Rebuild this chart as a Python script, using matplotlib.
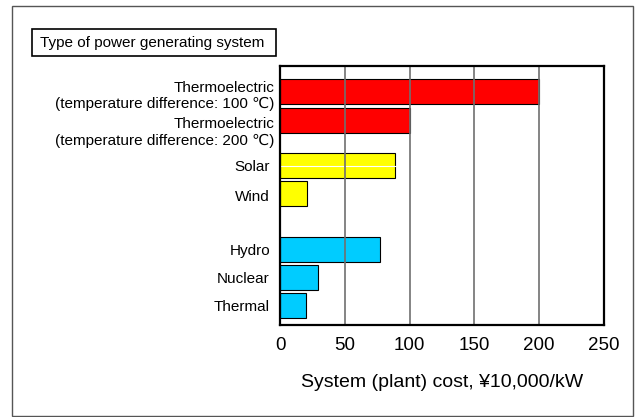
import matplotlib
matplotlib.use("Agg")
import matplotlib.pyplot as plt
from matplotlib.patches import Rectangle
import matplotlib.transforms as mtrans

plt.rcParams['font.family'] = ['Liberation Sans', 'DejaVu Sans']

categories = ["Thermoelectric\n(temperature difference: 100 \u2103)",
              "Thermoelectric\n(temperature difference: 200 \u2103)",
              "Solar", "Wind", "Hydro", "Nuclear", "Thermal"]
costs = [200, 100, 89, 21, 77, 29, 20]
colors = ["#FF0000", "#FF0000", "#FFFF00", "#FFFF00", "#00CCFF", "#00CCFF", "#00CCFF"]
xticks = [0, 50, 100, 150, 200, 250]
xtick_labels = ["0", "50", "100", "150", "200", "250"]
title_text = "Type of power generating system"
xlabel_text = "System (plant) cost, \u00a510,000/kW"

# layout (slot positions)
bar_pos = [0, 1.04, 2.63, 3.62, 5.59, 6.57, 7.55]
label_pos = [0.16, 1.45, 2.68, 3.72, 5.64, 6.62, 7.62]
label_x = [-6, -6, -10, -10, -10, -10, -10]
hgrid_pos = [2.63]

fig = plt.figure(figsize=(6.35, 4.17), dpi=100)
W, H = 635, 417

# outer border
fig.patches.append(Rectangle((12 / W, 1 - 416 / H), (633 - 12) / W, (416 - 6) / H,
                             transform=fig.transFigure, fill=False,
                             edgecolor="#555555", linewidth=1.0))
# title box
fig.patches.append(Rectangle((32 / W, 1 - 56 / H), (276 - 32) / W, (56 - 29) / H,
                             transform=fig.transFigure, fill=False,
                             edgecolor="black", linewidth=1.2))
fig.text(40 / W, 1 - 43 / H, title_text, fontsize=11, va="center", ha="left")

ax = fig.add_axes([280 / W, 1 - 325 / H, 324 / W, 259 / H])
ax.barh(bar_pos, costs, height=0.88, color=colors, edgecolor="black", linewidth=0.8, zorder=1)
ax.set_xlim(0, 250)
ax.set_ylim(8.25, -0.90)
ax.set_xticks(xticks)
ax.set_xticklabels(xtick_labels, fontsize=13.5)
ax.tick_params(axis="x", length=0, pad=9)
ax.set_yticks([])
for y in hgrid_pos:
    ax.axhline(y, color="white", linewidth=0.8, zorder=2)
for x in xticks[1:-1]:
    ax.axvline(x, color="#707070", linewidth=1.2, zorder=3)
for s in ax.spines.values():
    s.set_linewidth(1.6)
    s.set_zorder(4)

for lab, yp, dx in zip(categories, label_pos, label_x):
    tr = mtrans.offset_copy(ax.get_yaxis_transform(), fig=fig, x=dx * 0.72, y=0, units="points")
    ax.text(0, yp, lab, transform=tr, ha="right", va="center", fontsize=11,
            multialignment="right", linespacing=1.2)

ax.set_xlabel(xlabel_text, fontsize=14, labelpad=14)

fig.savefig("out.png", dpi=100)
